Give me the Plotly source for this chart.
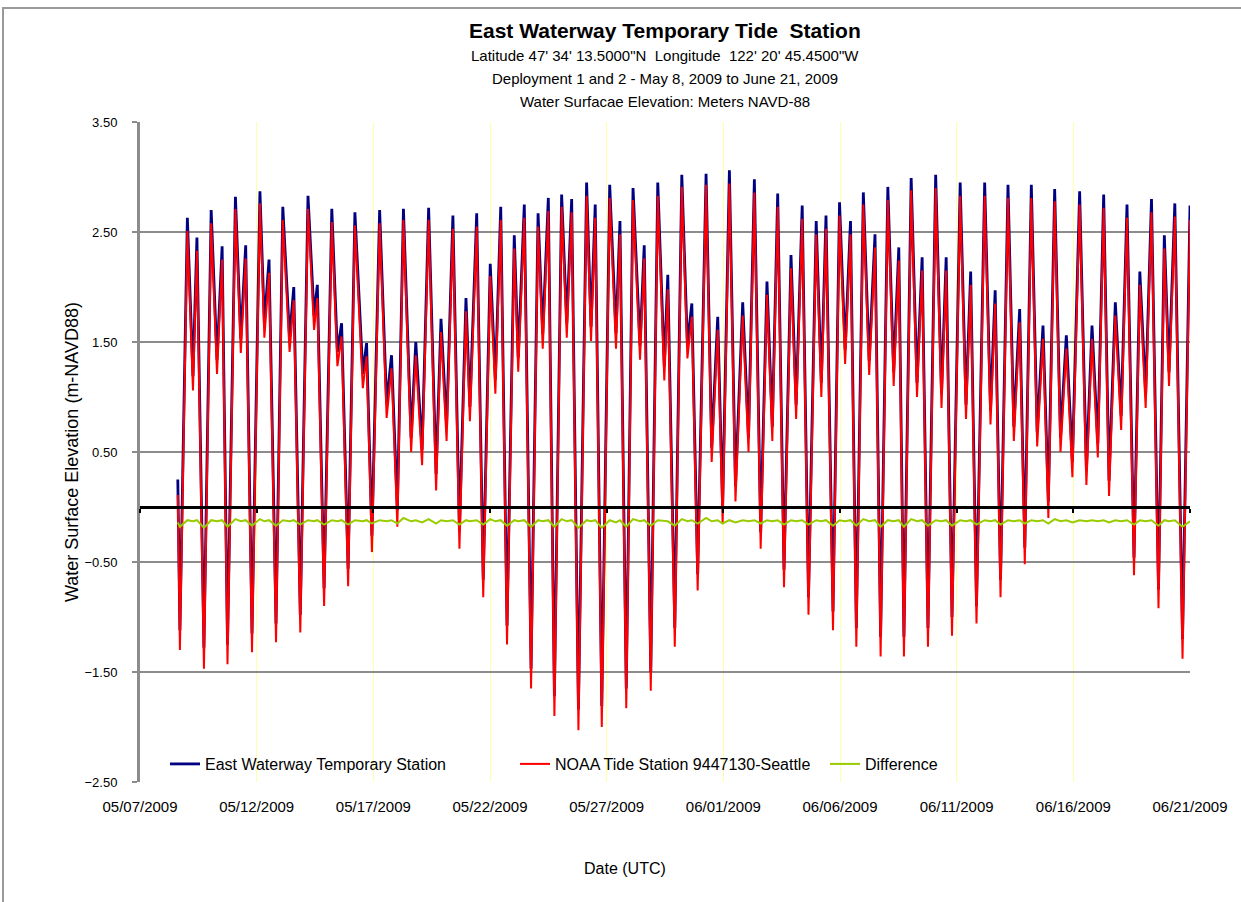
import pandas as pd
import plotly.graph_objects as go

# Tide extremes: time in days after 2009-05-07 00:00 UTC, NOAA Seattle elevation (m NAVD-88)
t_days = [
    1.62, 1.71, 2.03, 2.27, 2.44, 2.74, 3.05, 3.30, 3.52, 3.75,
    4.09, 4.32, 4.53, 4.80, 5.14, 5.33, 5.53, 5.83, 6.12, 6.41,
    6.59, 6.87, 7.20, 7.46, 7.60, 7.89, 8.22, 8.46, 8.64, 8.92,
    9.21, 9.55, 9.71, 9.94, 10.27, 10.57, 10.78, 11.03, 11.29, 11.62,
    11.82, 12.09, 12.37, 12.69, 12.90, 13.14, 13.41, 13.69, 13.97, 14.14,
    14.43, 14.71, 15.01, 15.23, 15.46, 15.73, 16.04, 16.21, 16.47, 16.76,
    17.06, 17.26, 17.50, 17.76, 18.07, 18.29, 18.50, 18.79, 19.14, 19.33,
    19.51, 19.79, 20.13, 20.40, 20.57, 20.84, 21.13, 21.43, 21.61, 21.89,
    22.19, 22.47, 22.62, 22.92, 23.22, 23.46, 23.65, 23.90, 24.26, 24.50,
    24.76, 24.97, 25.26, 25.52, 25.83, 26.08, 26.33, 26.60, 26.87, 27.10,
    27.33, 27.60, 27.90, 28.12, 28.38, 28.65, 28.98, 29.20, 29.40, 29.70,
    29.98, 30.22, 30.45, 30.70, 31.00, 31.25, 31.50, 31.74, 32.05, 32.30,
    32.52, 32.74, 33.05, 33.30, 33.52, 33.77, 34.10, 34.35, 34.55, 34.80,
    35.15, 35.40, 35.60, 35.85, 36.20, 36.45, 36.65, 36.88, 37.20, 37.45,
    37.70, 37.92, 38.20, 38.45, 38.70, 38.93, 39.20, 39.45, 39.70, 39.96,
    40.27, 40.56, 40.80, 41.05, 41.30, 41.53, 41.80, 42.05, 42.30, 42.60,
    42.85, 43.10, 43.35, 43.65, 43.90, 44.10, 44.35, 44.68, 45.00,
]

noaa_m = [
    0.11, -1.30, 2.51, 1.06, 2.33, -1.47, 2.58, 1.21, 2.25, -1.43,
    2.71, 1.40, 2.26, -1.32, 2.76, 1.54, 2.13, -1.23, 2.61, 1.41,
    1.88, -1.14, 2.71, 1.61, 1.90, -0.90, 2.59, 1.28, 1.55, -0.72,
    2.56, 1.08, 1.37, -0.41, 2.58, 0.81, 1.26, -0.18, 2.61, 0.50,
    1.38, 0.38, 2.61, 0.15, 1.59, 0.60, 2.53, -0.38, 1.78, 0.78,
    2.55, -0.82, 2.10, 1.03, 2.61, -1.25, 2.35, 1.23, 2.63, -1.65,
    2.55, 1.44, 2.69, -1.90, 2.73, 1.54, 2.68, -2.03, 2.83, 1.51,
    2.63, -2.00, 2.81, 1.44, 2.48, -1.83, 2.79, 1.34, 2.26, -1.67,
    2.83, 1.15, 1.98, -1.27, 2.91, 1.35, 1.73, -0.76, 2.93, 0.41,
    1.61, -0.15, 2.94, 0.05, 1.74, 0.50, 2.86, -0.38, 1.93, 0.60,
    2.73, -0.73, 2.17, 0.80, 2.62, -0.98, 2.48, 1.00, 2.53, -1.12,
    2.65, 1.30, 2.48, -1.27, 2.75, 1.20, 2.36, -1.36, 2.79, 1.10,
    2.24, -1.36, 2.88, 1.00, 2.15, -1.27, 2.90, 0.90, 2.15, -1.17,
    2.83, 0.80, 2.02, -1.06, 2.83, 0.75, 1.85, -0.82, 2.81, 0.60,
    1.68, -0.52, 2.81, 0.55, 1.53, -0.10, 2.78, 0.50, 1.44, 0.27,
    2.75, 0.20, 1.53, 0.45, 2.72, 0.10, 1.74, 0.70, 2.63, -0.62,
    2.02, 0.90, 2.68, -0.92, 2.35, 1.10, 2.64, -1.38, 2.61,
]

# NOAA minus East Waterway (m)
diff_m = [
    -0.14, -0.18, -0.12, -0.13, -0.12, -0.19, -0.12, -0.13, -0.12, -0.18,
    -0.11, -0.13, -0.12, -0.17, -0.11, -0.13, -0.12, -0.17, -0.12, -0.13,
    -0.12, -0.16, -0.12, -0.13, -0.12, -0.16, -0.12, -0.13, -0.12, -0.16,
    -0.12, -0.13, -0.12, -0.15, -0.12, -0.13, -0.12, -0.15, -0.10, -0.13,
    -0.12, -0.14, -0.11, -0.15, -0.12, -0.13, -0.12, -0.16, -0.12, -0.13,
    -0.12, -0.16, -0.11, -0.13, -0.12, -0.17, -0.12, -0.13, -0.12, -0.18,
    -0.12, -0.13, -0.12, -0.18, -0.11, -0.13, -0.12, -0.19, -0.12, -0.13,
    -0.12, -0.19, -0.12, -0.14, -0.12, -0.18, -0.11, -0.13, -0.12, -0.17,
    -0.12, -0.13, -0.13, -0.17, -0.11, -0.13, -0.12, -0.15, -0.10, -0.13,
    -0.12, -0.15, -0.12, -0.14, -0.12, -0.13, -0.12, -0.15, -0.12, -0.13,
    -0.12, -0.16, -0.12, -0.13, -0.12, -0.16, -0.12, -0.13, -0.12, -0.17,
    -0.12, -0.13, -0.12, -0.17, -0.11, -0.13, -0.12, -0.18, -0.12, -0.13,
    -0.12, -0.18, -0.11, -0.13, -0.12, -0.17, -0.12, -0.13, -0.12, -0.17,
    -0.12, -0.13, -0.12, -0.16, -0.12, -0.13, -0.12, -0.16, -0.12, -0.13,
    -0.12, -0.15, -0.12, -0.13, -0.12, -0.15, -0.11, -0.13, -0.12, -0.14,
    -0.12, -0.13, -0.12, -0.13, -0.12, -0.14, -0.12, -0.13, -0.12, -0.16,
    -0.12, -0.13, -0.12, -0.17, -0.12, -0.13, -0.12, -0.18, -0.13,
]

tick_dates = ["2009-05-07", "2009-05-12", "2009-05-17", "2009-05-22", "2009-05-27",
              "2009-06-01", "2009-06-06", "2009-06-11", "2009-06-16", "2009-06-21"]
y_ticks = [-2.5, -1.5, -0.5, 0.5, 1.5, 2.5, 3.5]

base = pd.Timestamp("2009-05-07")
times = base + pd.to_timedelta(t_days, unit="D")
east_m = [n - d for n, d in zip(noaa_m, diff_m)]

FONT = "Liberation Sans, Arial, sans-serif"

fig = go.Figure()
fig.add_trace(go.Scatter(x=times, y=east_m, mode="lines", name="East Waterway Temporary Station",
                         line=dict(color="#000080", width=2.8), legend="legend"))
fig.add_trace(go.Scatter(x=times, y=noaa_m, mode="lines", name="NOAA Tide Station 9447130-Seattle",
                         line=dict(color="#FF0000", width=2), legend="legend2"))
fig.add_trace(go.Scatter(x=times, y=diff_m, mode="lines", name="Difference",
                         line=dict(color="#99CC00", width=2), xaxis="x2", legend="legend3"))

# plot area in pixels: x 140..1190, y 122..782
L, R, T, B = 140, 51, 122, 120
W, H = 1241, 902
pw, ph = W - L - R, H - T - B


def px(x):
    return (x - L) / pw


def py(y):
    return (H - B - y) / ph


legend_common = dict(orientation="h", bgcolor="rgba(0,0,0,0)", yanchor="middle", xanchor="left",
                     font=dict(family=FONT, size=16, color="black"), itemwidth=30)


def label(text, x, y, size, bold=False):
    return dict(text=f"<b>{text}</b>" if bold else text, x=x, y=y, xref="paper", yref="paper",
                xanchor="center", yanchor="middle", showarrow=False,
                font=dict(family=FONT, size=size, color="black"))


fig.update_layout(
    width=W, height=H,
    margin=dict(l=L, r=R, t=T, b=B),
    paper_bgcolor="white", plot_bgcolor="white",
    showlegend=True,
    font=dict(family=FONT, size=13, color="black"),
    xaxis=dict(
        type="date", range=[tick_dates[0], tick_dates[-1]],
        tickvals=tick_dates, tickformat="%m/%d/%Y",
        showgrid=True, gridcolor="#FFFFA8", gridwidth=1,
        showline=False, ticks="", zeroline=False,
        tickfont=dict(family=FONT, size=15), ticklabelstandoff=14,
    ),
    xaxis2=dict(
        type="date", overlaying="x", matches="x", anchor="free",
        position=2.5 / 6, showline=True, linecolor="black", linewidth=3,
        ticks="outside", ticklen=4, tickwidth=2, tickcolor="black",
        tickvals=tick_dates, showticklabels=False, showgrid=False, zeroline=False,
    ),
    yaxis=dict(
        range=[-2.5, 3.5], tickvals=y_ticks, tickformat=".2f",
        showgrid=True, gridcolor="#8C8C8C", gridwidth=1.6,
        showline=True, linecolor="#8C8C8C", linewidth=3,
        ticks="outside", ticklen=5, tickcolor="#8C8C8C", tickwidth=1.5,
        zeroline=False, tickfont=dict(family=FONT, size=13), ticklabelstandoff=12,
        title=dict(text="Water Surface Elevation (m-NAVD88)",
                   font=dict(family=FONT, size=18), standoff=2),
    ),
    legend=dict(x=px(165), y=py(764), **legend_common),
    legend2=dict(x=px(515), y=py(764), **legend_common),
    legend3=dict(x=px(825), y=py(764), **legend_common),
    annotations=[
        label("East Waterway Temporary Tide\u00a0 Station", 0.5, py(30), 21, bold=True),
        label("Latitude 47' 34' 13.5000\"N\u00a0 Longitude\u00a0 122' 20' 45.4500\"W", 0.5, py(56), 15),
        label("Deployment 1 and 2 - May 8, 2009 to June 21, 2009", 0.5, py(79), 15),
        label("Water Surfacae Elevation: Meters NAVD-88", 0.5, py(101), 15),
        label("Date (UTC)", px(625), py(868), 16),
    ],
    shapes=[
        dict(type="rect", xref="paper", yref="paper", x0=px(3), x1=px(1246), y0=py(8), y1=py(908),
             line=dict(color="#9A9A9A", width=2), fillcolor="rgba(0,0,0,0)", layer="below"),
    ],
)

fig.write_html("out.html")
